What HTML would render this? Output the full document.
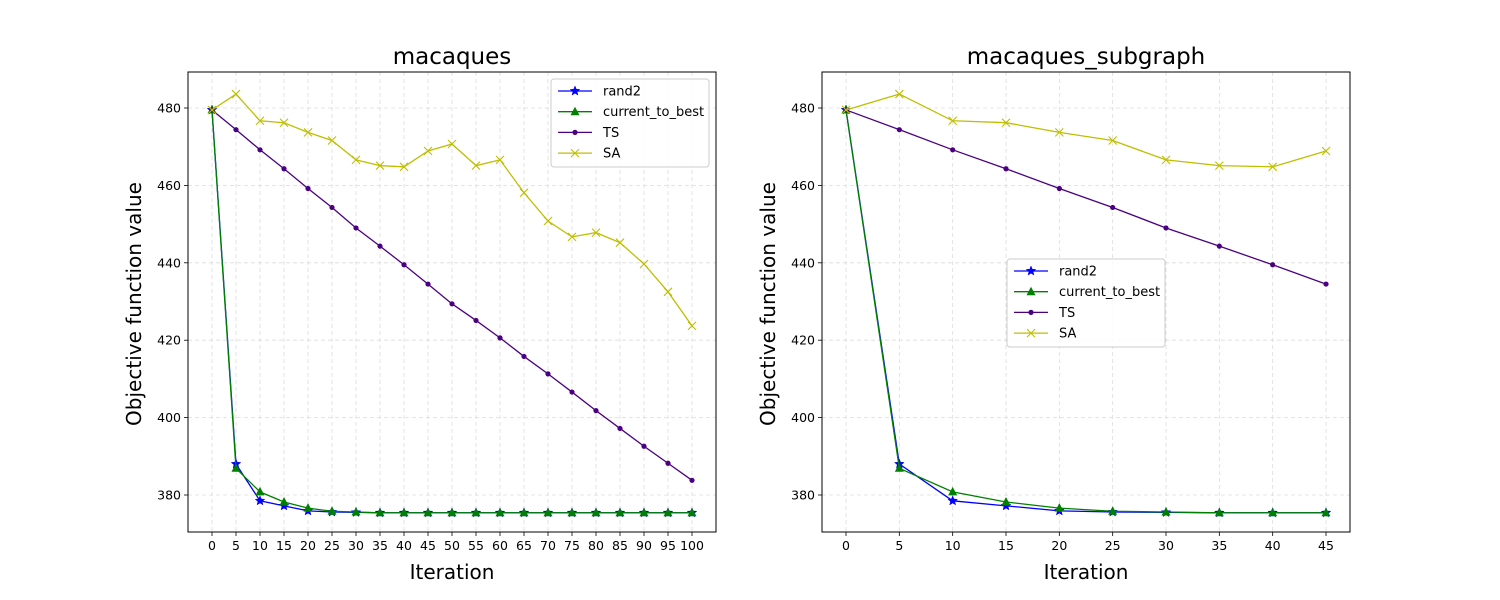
<!DOCTYPE html>
<html><head><meta charset="utf-8"><style>
body{margin:0;background:#fff;}
svg{display:block;font-family:"DejaVu Sans","Liberation Sans",sans-serif;}
</style></head><body>
<svg id="chart" width="1500" height="600" viewBox="0 0 1500 600"></svg>
<script>
const iterLeft=[0,5,10,15,20,25,30,35,40,45,50,55,60,65,70,75,80,85,90,95,100];
const rand2Left=[479.5,388,378.5,377.2,375.9,375.6,375.5,375.4,375.4,375.4,375.4,375.4,375.4,375.4,375.4,375.4,375.4,375.4,375.4,375.4,375.4];
const ctbLeft=[479.5,386.9,380.8,378.2,376.6,375.8,375.6,375.4,375.4,375.4,375.4,375.4,375.4,375.4,375.4,375.4,375.4,375.4,375.4,375.4,375.4];
const tsLeft=[479.5,474.4,469.2,464.3,459.2,454.3,449.0,444.3,439.5,434.5,429.4,425.1,420.6,415.8,411.3,406.6,401.8,397.2,392.6,388.2,383.8];
const saLeft=[479.5,483.6,476.7,476.2,473.7,471.6,466.6,465.1,464.8,468.9,470.7,465.1,466.6,458.1,450.8,446.7,447.8,445.2,439.7,432.5,423.7];
const iterRight=[0,5,10,15,20,25,30,35,40,45];
const rand2Right=[479.5,388,378.5,377.2,375.9,375.6,375.5,375.4,375.4,375.4];
const ctbRight=[479.5,386.9,380.8,378.2,376.6,375.8,375.6,375.4,375.4,375.4];
const tsRight=[479.5,474.4,469.2,464.3,459.2,454.3,449.0,444.3,439.5,434.5];
const saRight=[479.5,483.6,476.7,476.2,473.7,471.6,466.6,465.1,464.8,468.9];
const yTicks=[380,400,420,440,460,480];
const xTicksLeft=[0,5,10,15,20,25,30,35,40,45,50,55,60,65,70,75,80,85,90,95,100];
const xTicksRight=[0,5,10,15,20,25,30,35,40,45];
const seriesNames=["rand2","current_to_best","TS","SA"];
const colors=["#0000ff","#008000","#4b0082","#bfbf00"];

const NS="http://www.w3.org/2000/svg";
const svg=document.getElementById('chart');
function mk(tag,attrs,parent){const e=document.createElementNS(NS,tag);for(const k in attrs)e.setAttribute(k,attrs[k]);(parent||svg).appendChild(e);return e;}

function marker(g,type,x,y,c){
  let m;
  if(type===0){
    let pts=[];for(let i=0;i<10;i++){const r=i%2?2.2:5;const a=-Math.PI/2+i*Math.PI/5;pts.push((x+r*Math.cos(a)).toFixed(2)+","+(y+r*Math.sin(a)).toFixed(2));}
    m=mk('polygon',{points:pts.join(' '),fill:c,stroke:c,'stroke-width':0.5},g);
  }else if(type===1){
    m=mk('polygon',{points:`${x},${y-5} ${x-4.5},${y+3.5} ${x+4.5},${y+3.5}`,fill:c},g);
  }else if(type===2){
    m=mk('circle',{cx:x,cy:y,r:2.6,fill:c},g);
  }else{
    m=mk('path',{d:`M${x-4},${y-4}L${x+4},${y+4}M${x-4},${y+4}L${x+4},${y-4}`,stroke:c,'stroke-width':1.1,fill:'none'},g);
  }
  return m;
}

function panel(opt){
  const L=opt.left,R=opt.left+528,T=72,B=532;
  const xs=v=>opt.x0+(v-opt.xmin)*opt.xk;
  const ys=v=>108+(480-v)*3.87;
  const g=mk('g',{});  
  const grid=mk('g',{},g);  
  opt.xticks.forEach(t=>{mk('line',{x1:xs(t),x2:xs(t),y1:T,y2:B,stroke:'#dcdcdc','stroke-dasharray':'4,3','stroke-width':0.8},grid);});
  yTicks.forEach(t=>{mk('line',{x1:L,x2:R,y1:ys(t),y2:ys(t),stroke:'#dcdcdc','stroke-dasharray':'4,3','stroke-width':0.8},grid);});
  const xa=mk('g',{},g);  
  opt.xticks.forEach(t=>{mk('line',{x1:xs(t),x2:xs(t),y1:B,y2:B+4,stroke:'#000','stroke-width':0.8},xa);
    const tx=mk('text',{x:xs(t),y:B+18,'text-anchor':'middle','font-size':12.5},xa);tx.textContent=t;});
  const ya=mk('g',{},g);  
  yTicks.forEach(t=>{mk('line',{x1:L-4,x2:L,y1:ys(t),y2:ys(t),stroke:'#000','stroke-width':0.8},ya);
    const tx=mk('text',{x:L-7,y:ys(t)+4.5,'text-anchor':'end','font-size':12.5},ya);tx.textContent=t;});
  const data=[opt.rand2,opt.ctb,opt.ts,opt.sa];
  [0,1,2,3].forEach(si=>{
    const sg=mk('g',{},g);  
    const d=opt.iters.map((it,i)=>(i?'L':'M')+xs(it).toFixed(2)+','+ys(data[si][i]).toFixed(2)).join('');
    mk('path',{d:d,fill:'none',stroke:colors[si],'stroke-width':1.3},sg);
    opt.iters.forEach((it,i)=>{marker(sg,si,xs(it),ys(data[si][i]),colors[si]);});
  });
  mk('rect',{x:L,y:T,width:R-L,height:B-T,fill:'none',stroke:'#000','stroke-width':1},g);
  const ti=mk('text',{x:(L+R)/2,y:64,'text-anchor':'middle','font-size':23},g); ti.textContent=opt.title;
   
  const xl=mk('text',{x:(L+R)/2,y:579,'text-anchor':'middle','font-size':20},g); xl.textContent='Iteration';
   
  const yl=mk('text',{x:0,y:0,'text-anchor':'middle','font-size':20,transform:`translate(${L-47},${(T+B)/2+2}) rotate(-90)`},g); yl.textContent='Objective function value';
   
  const lg=mk('g',{},g);  
  mk('rect',{x:opt.lx,y:opt.ly,width:158,height:88,rx:3,fill:'#fff','fill-opacity':0.85,stroke:'#ccc'},lg);
  seriesNames.forEach((n,i)=>{
    const e=mk('g',{},lg);  
    const yy=opt.ly+12+i*20.7;
    mk('line',{x1:opt.lx+7,x2:opt.lx+41,y1:yy,y2:yy,stroke:colors[i],'stroke-width':1.3},e);
    marker(e,i,opt.lx+24,yy,colors[i]);
    const t=mk('text',{x:opt.lx+52,y:yy+4.5,'font-size':13},e);t.textContent=n;
  });
}
panel({name:'macaques-panel',title:'macaques',left:188,x0:212,xmin:0,xk:4.8,xticks:xTicksLeft,iters:iterLeft,rand2:rand2Left,ctb:ctbLeft,ts:tsLeft,sa:saLeft,lx:551,ly:79});
panel({name:'macaques-subgraph-panel',title:'macaques_subgraph',left:822,x0:846,xmin:0,xk:10.667,xticks:xTicksRight,iters:iterRight,rand2:rand2Right,ctb:ctbRight,ts:tsRight,sa:saRight,lx:1007,ly:259});
</script>
</body></html>
